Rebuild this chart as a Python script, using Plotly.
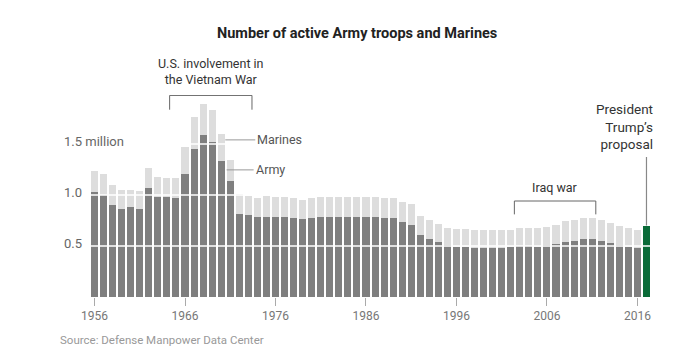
import plotly.graph_objects as go

years = list(range(1956, 2017))
army = [1.03, 1.00, 0.905, 0.867, 0.879, 0.863, 1.072, 0.98, 0.977, 0.971,
        1.206, 1.455, 1.585, 1.52, 1.333, 1.134, 0.814, 0.804, 0.788, 0.788,
        0.781, 0.786, 0.772, 0.763, 0.778, 0.784, 0.782, 0.782, 0.782, 0.782,
        0.784, 0.784, 0.772, 0.770, 0.732, 0.709, 0.611, 0.572, 0.540, 0.508,
        0.491, 0.491, 0.484, 0.479, 0.482, 0.481, 0.487, 0.499, 0.500, 0.492,
        0.505, 0.519, 0.541, 0.551, 0.564, 0.564, 0.548, 0.532, 0.505, 0.490, 0.477]
marines = [0.205, 0.206, 0.19, 0.179, 0.171, 0.18, 0.19, 0.193, 0.193, 0.192,
           0.264, 0.307, 0.311, 0.317, 0.265, 0.213, 0.199, 0.186, 0.186, 0.199,
           0.196, 0.191, 0.195, 0.185, 0.189, 0.193, 0.195, 0.195, 0.202, 0.202,
           0.2, 0.2, 0.199, 0.198, 0.203, 0.2, 0.187, 0.18, 0.173, 0.172,
           0.173, 0.174, 0.17, 0.175, 0.172, 0.173, 0.173, 0.181, 0.18, 0.185,
           0.181, 0.19, 0.201, 0.207, 0.207, 0.207, 0.204, 0.197, 0.188, 0.186, 0.183]
proposal_year = [2017]
proposal_total = [0.70]

tick_years = [1956, 1966, 1976, 1986, 1996, 2006, 2016]
grid_values = [0.5, 1.0, 1.5]
grid_labels = ["0.5", "1.0", "1.5 million"]

vietnam = (1964.3, 1973.4)
iraq = (2002.4, 2011.4)

ARMY = "#7f7f7f"
MAR = "#dddddd"
GREEN = "#0a6b38"
FONT = "Roboto, Arial, sans-serif"

fig = go.Figure()
fig.add_bar(x=years, y=army, marker_color=ARMY, name="Army", marker_line_width=0)
fig.add_bar(x=years, y=marines, marker_color=MAR, name="Marines", marker_line_width=0)
fig.add_bar(x=proposal_year, y=proposal_total, marker_color=GREEN, name="Proposal", marker_line_width=0)

shapes = []
for g in grid_values:
    shapes.append(dict(type="line", xref="paper", x0=0, x1=1, yref="y", y0=g, y1=g,
                       line=dict(color="white", width=1.5), layer="above"))

def bracket(x0, x1, ytop, ybot):
    return dict(type="path", xref="x", yref="y",
                path=f"M {x0},{ybot} L {x0},{ytop} L {x1},{ytop} L {x1},{ybot}",
                line=dict(color="#666", width=1))

shapes.append(bracket(vietnam[0], vietnam[1], 1.976, 1.836))
shapes.append(bracket(iraq[0], iraq[1], 0.941, 0.81))

annotations = []
for g, lab in zip(grid_values, grid_labels):
    annotations.append(dict(text=lab, xref="paper", x=-0.05, xanchor="left",
                            yref="y", y=g, yanchor="middle", yshift=2, showarrow=False,
                            font=dict(family=FONT, size=13, color="#666")))

annotations += [
    dict(text="<b>Number of active Army troops and Marines</b>", xref="paper", yref="paper",
         x=0.476, y=1.0, yshift=62, xanchor="center", yanchor="middle", showarrow=False,
         font=dict(family=FONT, size=14.5, color="#222")),
    dict(text="U.S. involvement in<br>the Vietnam War", xref="x", yref="y",
         x=(vietnam[0] + vietnam[1]) / 2, y=1.976, yanchor="bottom", yshift=6,
         showarrow=False, font=dict(family=FONT, size=12.5, color="#333")),
    dict(text="Iraq war", xref="x", yref="y", x=(iraq[0] + iraq[1]) / 2, y=0.941,
         yanchor="bottom", yshift=4, showarrow=False,
         font=dict(family=FONT, size=12.5, color="#333")),
    dict(text="Marines", xref="x", yref="y", x=1970.45, y=1.54, ax=30, ay=0,
         axref="pixel", ayref="pixel", showarrow=True, arrowhead=0, arrowwidth=1,
         arrowcolor="#999", xanchor="left", font=dict(family=FONT, size=12.5, color="#555")),
    dict(text="Army", xref="x", yref="y", x=1970.6, y=1.246, ax=27, ay=0,
         axref="pixel", ayref="pixel", showarrow=True, arrowhead=0, arrowwidth=1,
         arrowcolor="#999", xanchor="left", font=dict(family=FONT, size=12.5, color="#555")),
    dict(text="", xref="x", yref="y", x=2017, y=proposal_total[0], ax=0, ay=-70,
         showarrow=True, arrowhead=0, arrowwidth=1.2, arrowcolor="#888"),
    dict(text="President<br>Trump’s<br>proposal", xref="x", yref="y", x=2017,
         y=proposal_total[0], xanchor="right", yanchor="bottom", xshift=9, yshift=72,
         align="right", showarrow=False, font=dict(family=FONT, size=13.5, color="#333")),
    dict(text="Source: Defense Manpower Data Center", xref="paper", yref="paper",
         x=-0.057, y=0, yshift=-43, xanchor="left", yanchor="middle", showarrow=False,
         font=dict(family=FONT, size=11.5, color="#999")),
]

fig.update_layout(
    width=699, height=363,
    margin=dict(l=90, r=48, t=95, b=66),
    barmode="stack", bargap=0.22,
    showlegend=False,
    plot_bgcolor="white", paper_bgcolor="white",
    shapes=shapes, annotations=annotations,
    xaxis=dict(range=[1955.5, 2017.5], tickvals=tick_years, ticktext=[str(t) for t in tick_years],
               ticks="outside", ticklen=8, tickcolor="#aaa", tickwidth=1,
               showgrid=False, zeroline=False, showline=False,
               tickfont=dict(family=FONT, size=12, color="#777")),
    yaxis=dict(range=[0, 1.98], showgrid=False, zeroline=False, showticklabels=False,
               showline=False),
)

fig.write_html("out.html", config={"displayModeBar": False},
               post_script="document.body.style.margin='0';")
